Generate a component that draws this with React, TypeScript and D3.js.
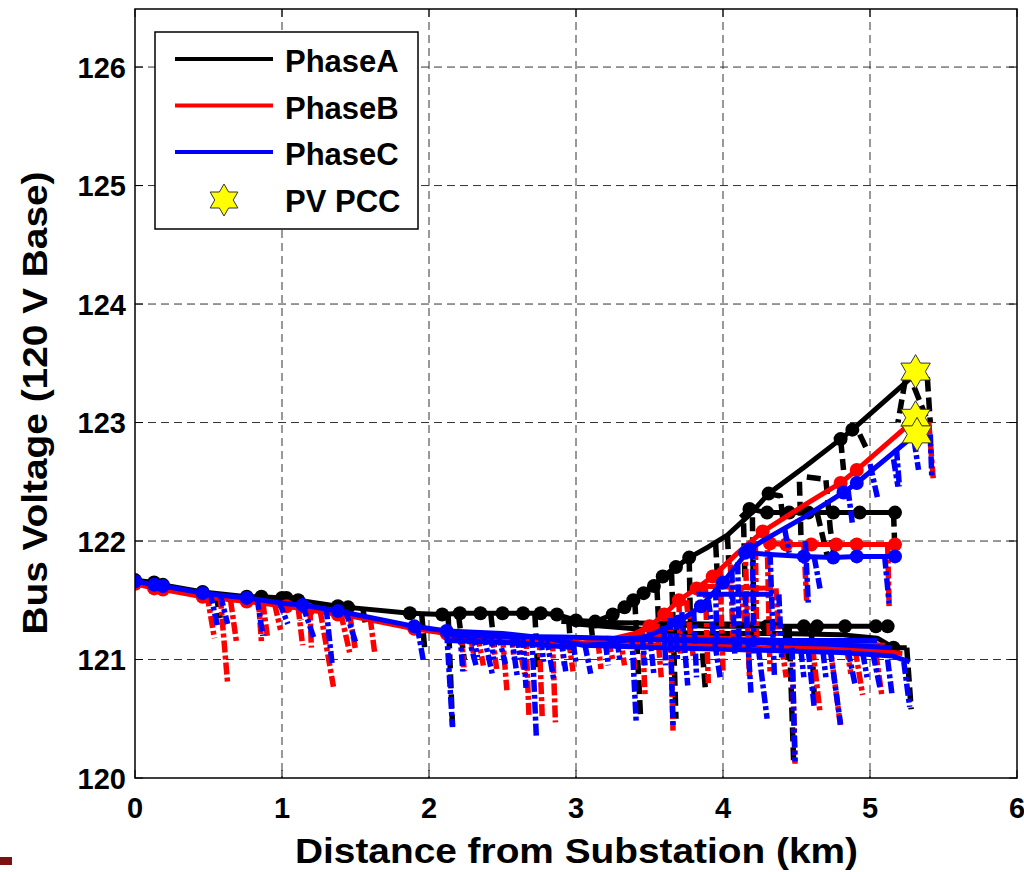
import React from "react";
import * as d3 from "d3";

const W = 1024;
const H = 872;

const xTicks = [0, 1, 2, 3, 4, 5, 6];
const yTicks = [120, 121, 122, 123, 124, 125, 126];
const legendLabels = ["PhaseA", "PhaseB", "PhaseC", "PV PCC"];

// solid feeder paths: [km, volts, marker]
const trunkA = [
  [0, 121.67, 1], [0.13, 121.65, 1], [0.19, 121.63, 1], [0.46, 121.57, 1], [0.76, 121.53, 1], [0.86, 121.53, 1],
  [1.0, 121.52, 1], [1.03, 121.52, 1], [1.11, 121.5, 1], [1.38, 121.45, 1], [1.45, 121.44, 1], [1.87, 121.39, 1],
  [2.09, 121.38, 1], [2.21, 121.39, 1], [2.35, 121.39, 1], [2.5, 121.39, 1], [2.64, 121.39, 1], [2.76, 121.39, 1],
  [2.87, 121.38, 1], [3.0, 121.33, 1], [3.13, 121.32, 1], [3.25, 121.38, 1], [3.33, 121.44, 1], [3.39, 121.5, 1],
  [3.46, 121.56, 1], [3.53, 121.62, 1], [3.59, 121.7, 1], [3.68, 121.78, 1], [3.77, 121.86, 1], [3.9, 121.95, 0],
  [4.03, 122.05, 0], [4.18, 122.22, 0], [4.31, 122.4, 1], [4.55, 122.62, 0], [4.8, 122.86, 1], [4.88, 122.94, 1],
  [5.3, 123.4, 0],
];
const branchA1 = [
  [4.12, 122.2, 0], [4.18, 122.27, 1], [4.3, 122.24, 1], [4.45, 122.24, 1], [4.58, 122.24, 1], [4.75, 122.24, 1],
  [4.93, 122.24, 1], [5.17, 122.24, 1],
];
const branchA2 = [
  [3.55, 121.3, 0], [3.9, 121.28, 0], [4.3, 121.28, 1], [4.55, 121.28, 1], [4.64, 121.28, 1], [4.83, 121.28, 1],
  [5.04, 121.28, 1], [5.12, 121.28, 1],
];
const branchA3 = [
  [3.0, 121.3, 0], [3.8, 121.22, 0], [4.4, 121.22, 0], [4.8, 121.21, 0], [5.05, 121.18, 0], [5.16, 121.1, 1],
  [5.25, 121.1, 0],
];
const branchA4 = [[2.9, 121.32, 0], [3.3, 121.31, 0], [3.9, 121.3, 0], [4.4, 121.3, 0]];

const trunkB = [
  [0, 121.64, 1], [0.13, 121.6, 1], [0.19, 121.59, 1], [0.46, 121.53, 1], [0.76, 121.49, 1], [1.03, 121.45, 1],
  [1.18, 121.42, 1], [1.38, 121.38, 1], [1.45, 121.37, 0], [1.9, 121.26, 1], [2.12, 121.22, 1], [2.5, 121.2, 0],
  [2.8, 121.17, 0], [3.05, 121.14, 0], [3.2, 121.16, 0], [3.4, 121.22, 0], [3.5, 121.28, 1], [3.6, 121.38, 1],
  [3.7, 121.5, 1], [3.82, 121.6, 1], [3.93, 121.7, 1], [4.1, 121.9, 0], [4.27, 122.08, 1], [4.55, 122.3, 0],
  [4.8, 122.49, 1], [4.91, 122.6, 1], [5.28, 123.0, 0],
];
const branchB1 = [
  [4.27, 122.08, 0], [4.32, 121.98, 1], [4.43, 121.97, 1], [4.6, 121.97, 1], [4.77, 121.97, 1], [4.91, 121.97, 1],
  [5.17, 121.97, 1],
];
const branchB2 = [[3.82, 121.62, 0], [4.34, 121.6, 0]];
const branchB3 = [
  [3.05, 121.14, 0], [3.6, 121.12, 0], [3.73, 121.14, 1], [4.2, 121.1, 0], [4.6, 121.1, 0], [5.0, 121.08, 0],
  [5.22, 121.05, 0],
];
const branchB4 = [[2.12, 121.18, 0], [2.6, 121.15, 0], [3.0, 121.12, 0]];
const branchB5 = [[3.4, 121.2, 0], [4.0, 121.18, 0], [4.6, 121.15, 0], [5.1, 121.12, 0]];

const trunkC = [
  [0, 121.66, 1], [0.13, 121.63, 1], [0.19, 121.62, 1], [0.46, 121.56, 1], [0.76, 121.52, 1], [1.03, 121.47, 0],
  [1.14, 121.46, 1], [1.38, 121.41, 1], [1.9, 121.28, 1], [2.12, 121.24, 1], [2.5, 121.22, 0], [2.8, 121.18, 0],
  [3.05, 121.12, 0], [3.2, 121.13, 0], [3.5, 121.2, 0], [3.7, 121.32, 1], [3.85, 121.45, 1], [4.0, 121.65, 1],
  [4.18, 121.93, 1], [4.28, 122.01, 0], [4.55, 122.2, 0], [4.82, 122.41, 1], [4.91, 122.49, 1], [5.26, 122.85, 0],
];
const branchC1 = [[4.15, 121.9, 1], [4.55, 121.87, 1], [4.75, 121.86, 1], [4.91, 121.87, 1], [5.17, 121.87, 1]];
const branchC2 = [[3.82, 121.55, 0], [4.34, 121.55, 0]];
const branchC3 = [
  [3.05, 121.12, 0], [3.6, 121.1, 0], [4.2, 121.08, 0], [4.8, 121.06, 0], [5.15, 121.03, 0], [5.27, 120.98, 0],
];
const branchC4 = [[2.12, 121.16, 0], [2.6, 121.14, 0], [3.0, 121.1, 0]];
const branchC5 = [[3.2, 121.18, 0], [4.0, 121.15, 0], [4.7, 121.13, 0], [5.15, 121.1, 0]];
const branchC6 = [[2.15, 121.2, 0], [2.9, 121.19, 0], [3.5, 121.17, 0], [4.4, 121.16, 0], [5.05, 121.16, 0]];

// lateral drops: [km, volts] polylines
const lateralsA = [
  [[0.55, 121.56], [0.58, 121.35]], [[1.1, 121.5], [1.13, 121.33]], [[1.55, 121.43], [1.57, 121.28]],
  [[1.95, 121.39], [1.97, 121.1]], [[2.13, 121.38], [2.16, 120.44]], [[2.2, 121.38], [2.24, 121.0]],
  [[2.72, 121.39], [2.74, 120.9]], [[3.1, 121.32], [3.12, 121.1]], [[3.4, 121.5], [3.44, 120.5]],
  [[3.65, 121.74], [3.68, 120.5]], [[3.95, 121.98], [3.97, 121.5]], [[4.03, 122.05], [4.04, 121.8]],
  [[4.14, 122.15], [4.15, 121.65]], [[4.31, 122.4], [4.39, 122.38], [4.41, 122.15]],
  [[4.42, 121.27], [4.44, 121.0]], [[4.45, 121.27], [4.48, 120.15]], [[4.52, 122.5], [4.53, 122.05]],
  [[4.57, 122.54], [4.7, 122.52], [4.73, 122.1], [4.76, 121.85]], [[4.64, 122.24], [4.71, 121.87]],
  [[4.8, 122.86], [4.82, 122.6]], [[4.93, 122.9], [4.98, 122.77]], [[5.16, 122.24], [5.17, 121.9]],
  [[5.24, 123.36], [5.19, 123.0]], [[5.3, 123.3], [5.38, 123.05]], [[5.39, 123.38], [5.41, 123.0]],
  [[5.25, 121.1], [5.28, 120.58]], [[4.6, 121.28], [4.62, 120.7]], [[3.85, 121.22], [3.88, 120.75]],
  [[3.77, 121.86], [3.78, 121.2]], [[4.2, 122.2], [4.21, 121.3]], [[2.42, 121.39], [2.45, 121.05]],
  [[2.95, 121.34], [2.97, 121.0]], [[3.55, 121.62], [3.57, 121.1]],
];
const lateralsB = [
  [[0.49, 121.55], [0.54, 121.18]], [[0.58, 121.53], [0.63, 120.8]], [[0.65, 121.5], [0.69, 121.15]],
  [[0.84, 121.5], [0.86, 121.15]], [[0.87, 121.48], [0.9, 121.2]], [[0.95, 121.47], [0.99, 121.25]],
  [[1.11, 121.44], [1.14, 121.12]], [[1.19, 121.43], [1.2, 121.1]], [[1.26, 121.41], [1.35, 120.77]],
  [[1.4, 121.39], [1.46, 121.06]], [[1.46, 121.38], [1.5, 121.08]], [[1.6, 121.35], [1.63, 121.06]],
  [[2.22, 121.22], [2.24, 120.9]], [[2.33, 121.21], [2.37, 120.95]], [[2.43, 121.2], [2.46, 120.92]],
  [[2.5, 121.2], [2.53, 120.74]], [[2.6, 121.2], [2.65, 120.88]], [[2.66, 121.19], [2.68, 120.52]],
  [[2.75, 121.18], [2.77, 120.52]], [[2.84, 121.17], [2.86, 120.47]], [[2.95, 121.16], [2.98, 120.9]],
  [[3.15, 121.15], [3.17, 120.92]], [[3.3, 121.2], [3.33, 120.95]], [[3.55, 121.3], [3.58, 120.85]],
  [[3.64, 121.4], [3.66, 120.4]], [[3.75, 121.5], [3.8, 121.0]], [[3.88, 121.62], [3.9, 120.8]],
  [[3.98, 121.75], [4.0, 120.9]], [[4.12, 121.6], [4.15, 121.3]], [[4.15, 121.95], [4.18, 120.85]],
  [[4.3, 122.05], [4.32, 120.9]], [[4.47, 121.1], [4.49, 120.12]], [[4.55, 121.97], [4.57, 121.48]],
  [[4.61, 121.1], [4.66, 120.55]], [[4.73, 121.1], [4.8, 120.43]], [[4.9, 121.08], [4.95, 120.7]],
  [[5.04, 121.05], [5.08, 120.7]], [[5.12, 121.97], [5.13, 121.45]], [[5.4, 123.0], [5.43, 122.53]],
  [[4.36, 121.6], [4.38, 121.2]], [[3.45, 121.24], [3.47, 120.7]], [[2.28, 121.21], [2.31, 121.0]],
  [[2.56, 121.2], [2.58, 121.0]], [[2.9, 121.17], [2.92, 120.95]], [[3.22, 121.16], [3.25, 121.0]],
  [[3.38, 121.2], [3.4, 120.9]], [[3.7, 121.5], [3.71, 121.05]], [[4.05, 121.8], [4.07, 121.1]],
  [[4.22, 122.0], [4.23, 121.1]], [[4.4, 121.1], [4.43, 120.85]], [[4.84, 121.1], [4.87, 120.88]],
];
const lateralsC = [
  [[0.51, 121.57], [0.56, 121.29]], [[0.58, 121.55], [0.63, 121.3]], [[0.83, 121.52], [0.87, 121.2]],
  [[0.98, 121.49], [1.04, 121.3]], [[1.14, 121.46], [1.22, 121.17]], [[1.3, 121.44], [1.34, 120.97]],
  [[1.43, 121.42], [1.5, 121.15]], [[1.92, 121.28], [1.96, 121.0]], [[2.12, 121.24], [2.16, 120.43]],
  [[2.21, 121.23], [2.23, 120.9]], [[2.26, 121.23], [2.32, 120.95]], [[2.37, 121.22], [2.43, 120.88]],
  [[2.47, 121.22], [2.52, 120.96]], [[2.56, 121.21], [2.6, 120.86]], [[2.64, 121.2], [2.66, 120.76]],
  [[2.7, 121.2], [2.73, 120.35]], [[2.8, 121.18], [2.85, 120.82]], [[2.9, 121.17], [2.93, 120.9]],
  [[3.06, 121.13], [3.1, 120.88]], [[3.2, 121.14], [3.22, 120.95]], [[3.38, 121.2], [3.41, 120.46]],
  [[3.5, 121.23], [3.53, 120.87]], [[3.64, 121.35], [3.66, 120.44]], [[3.72, 121.4], [3.76, 120.78]],
  [[3.8, 121.42], [3.82, 120.85]], [[3.9, 121.5], [3.98, 120.85]], [[4.15, 121.55], [4.19, 120.72]],
  [[4.24, 121.1], [4.3, 120.5]], [[4.32, 121.9], [4.35, 120.85]], [[4.47, 121.1], [4.49, 120.14]],
  [[4.56, 122.0], [4.58, 121.48]], [[4.58, 121.08], [4.62, 120.6]], [[4.73, 121.08], [4.8, 120.45]],
  [[4.85, 121.08], [4.9, 120.78]], [[5.02, 121.05], [5.07, 120.75]], [[5.1, 121.87], [5.13, 121.47]],
  [[5.12, 121.0], [5.15, 120.7]], [[5.23, 120.98], [5.27, 120.6]], [[4.42, 122.1], [4.45, 121.9]],
  [[4.85, 122.44], [4.88, 122.15]], [[5.0, 122.65], [5.05, 122.37]], [[5.16, 122.69], [5.19, 122.46]],
  [[5.18, 122.78], [5.2, 122.46]], [[5.3, 122.85], [5.33, 122.6]], [[5.41, 122.9], [5.42, 122.55]],
  [[4.62, 121.87], [4.66, 121.6]], [[2.3, 121.22], [2.33, 121.02]], [[2.42, 121.21], [2.44, 121.0]],
  [[2.6, 121.2], [2.62, 121.0]], [[2.76, 121.18], [2.78, 120.98]], [[2.98, 121.14], [3.0, 120.97]],
  [[3.28, 121.16], [3.3, 120.98]], [[3.45, 121.2], [3.47, 120.95]], [[3.6, 121.28], [3.61, 120.95]],
  [[3.68, 121.35], [3.69, 121.0]], [[3.95, 121.6], [3.96, 121.05]], [[4.06, 121.75], [4.08, 121.05]],
  [[4.1, 121.82], [4.11, 121.1]], [[4.2, 121.95], [4.21, 121.05]], [[4.38, 121.55], [4.4, 121.0]],
  [[4.53, 121.08], [4.55, 120.85]], [[4.68, 121.07], [4.7, 120.85]], [[4.95, 121.06], [4.98, 120.85]],
];

const pvPcc = [[5.31, 123.43], [5.31, 123.04], [5.32, 122.9]];

const solidsA = [trunkA, branchA1, branchA2, branchA3, branchA4];
const solidsB = [trunkB, branchB1, branchB2, branchB3, branchB4, branchB5];
const solidsC = [trunkC, branchC1, branchC2, branchC3, branchC4, branchC5, branchC6];

const phases = [
  { color: "#000000", solids: solidsA, laterals: lateralsA, dash: "14,6" },
  { color: "#ff0000", solids: solidsB, laterals: lateralsB, dash: "12,3,4,3" },
  { color: "#0000ff", solids: solidsC, laterals: lateralsC, dash: "12,3,4,3" },
];

const FONT = "'Liberation Sans', Arial, Helvetica, sans-serif";

function hexagram(cx: number, cy: number, R: number) {
  const r = R / Math.sqrt(3);
  const pts: string[] = [];
  for (let i = 0; i < 12; i++) {
    const a = -Math.PI / 2 + (i * Math.PI) / 6;
    const rr = i % 2 === 0 ? R : r;
    pts.push(`${cx + rr * Math.cos(a)},${cy + rr * Math.sin(a)}`);
  }
  return "M" + pts.join("L") + "Z";
}

export default function App() {
  const L = 135, R = 1017, T = 9, B = 778;
  const x = d3.scaleLinear().domain([0, 6]).range([L, R]);
  const y = d3.scaleLinear().domain([120, 126.49]).range([B, T]);
  const line = d3.line<number[]>().x((d) => x(d[0])).y((d) => y(d[1]));

  return (
    <svg width={W} height={H} style={{ display: "block", position: "absolute", left: 0, top: 0, background: "#fff" }}>
      <rect x={0} y={0} width={W} height={H} fill="#fff" />
      <defs>
        <clipPath id="plot">
          <rect x={L} y={T} width={R - L + 2} height={B - T} />
        </clipPath>
      </defs>
      {/* grid */}
      {xTicks.slice(1, -1).map((t) => (
        <line key={"gx" + t} x1={x(t)} x2={x(t)} y1={T} y2={B} stroke="#333" strokeWidth={1} strokeDasharray="8,5" />
      ))}
      {yTicks.slice(1).map((t) => (
        <line key={"gy" + t} x1={L} x2={R} y1={y(t)} y2={y(t)} stroke="#333" strokeWidth={1} strokeDasharray="8,5" />
      ))}
      {/* data */}
      <g clipPath="url(#plot)" fill="none" strokeLinejoin="round">
        {phases.map((ph, pi) => (
          <g key={"ph" + pi}>
            {ph.laterals.map((l, i) => (
              <path key={"l" + i} d={line(l) || ""} stroke={ph.color} strokeWidth={5.5} strokeDasharray={ph.dash} />
            ))}
            {ph.solids.map((s, i) => (
              <path key={"s" + i} d={line(s) || ""} stroke={ph.color} strokeWidth={5} />
            ))}
            {ph.solids.map((s, i) =>
              s.filter((p) => p[2] === 1).map((p, j) => (
                <circle key={"m" + i + "_" + j} cx={x(p[0])} cy={y(p[1])} r={7} fill={ph.color} stroke="none" />
              ))
            )}
          </g>
        ))}
        {pvPcc.map((p, i) => (
          <path key={"st" + i} d={hexagram(x(p[0]), y(p[1]), 17)} fill="#ffff00" stroke="#333" strokeWidth={1} />
        ))}
      </g>
      {/* axes box */}
      <rect x={L} y={T} width={R - L} height={B - T} fill="none" stroke="#000" strokeWidth={1.5} />
      {xTicks.map((t) => (
        <g key={"tx" + t}>
          <line x1={x(t)} x2={x(t)} y1={B} y2={B - 8} stroke="#000" strokeWidth={1} />
          <line x1={x(t)} x2={x(t)} y1={T} y2={T + 8} stroke="#000" strokeWidth={1} />
          <text x={x(t)} y={818} textAnchor="middle" fontFamily={FONT} fontWeight="bold" fontSize={29} fill="#000">
            {t}
          </text>
        </g>
      ))}
      {yTicks.map((t) => (
        <g key={"ty" + t}>
          <line x1={L} x2={L + 8} y1={y(t)} y2={y(t)} stroke="#000" strokeWidth={1} />
          <line x1={R} x2={R - 8} y1={y(t)} y2={y(t)} stroke="#000" strokeWidth={1} />
          <text x={126} y={y(t) + 10.5} textAnchor="end" fontFamily={FONT} fontWeight="bold" fontSize={29} fill="#000">
            {t}
          </text>
        </g>
      ))}
      {/* axis labels */}
      <text x={295} y={863} fontFamily={FONT} fontWeight="bold" fontSize={35} fill="#000" textLength={563} lengthAdjust="spacingAndGlyphs">
        Distance from Substation (km)
      </text>
      <text
        transform="translate(47,403) rotate(-90)"
        textAnchor="middle"
        fontFamily={FONT}
        fontWeight="bold"
        fontSize={35}
        fill="#000"
        textLength={463}
        lengthAdjust="spacingAndGlyphs"
      >
        Bus Voltage (120 V Base)
      </text>
      {/* legend */}
      <rect x={155} y={32} width={263} height={197} fill="#fff" stroke="#000" strokeWidth={1.5} />
      {phases.map((ph, i) => (
        <g key={"lg" + i}>
          <line x1={175} x2={273} y1={59 + i * 46.5} y2={59 + i * 46.5} stroke={ph.color} strokeWidth={4} />
          <text x={285} y={72 + i * 46.5} fontFamily={FONT} fontWeight="bold" fontSize={31} fill="#000">
            {legendLabels[i]}
          </text>
        </g>
      ))}
      <path d={hexagram(224, 200, 16)} fill="#ffff00" stroke="#333" strokeWidth={1} />
      <text x={285} y={212} fontFamily={FONT} fontWeight="bold" fontSize={31} fill="#000">
        {legendLabels[3]}
      </text>
      <rect x={0} y={857} width={12} height={8} fill="#7b1113" />
    </svg>
  );
}
